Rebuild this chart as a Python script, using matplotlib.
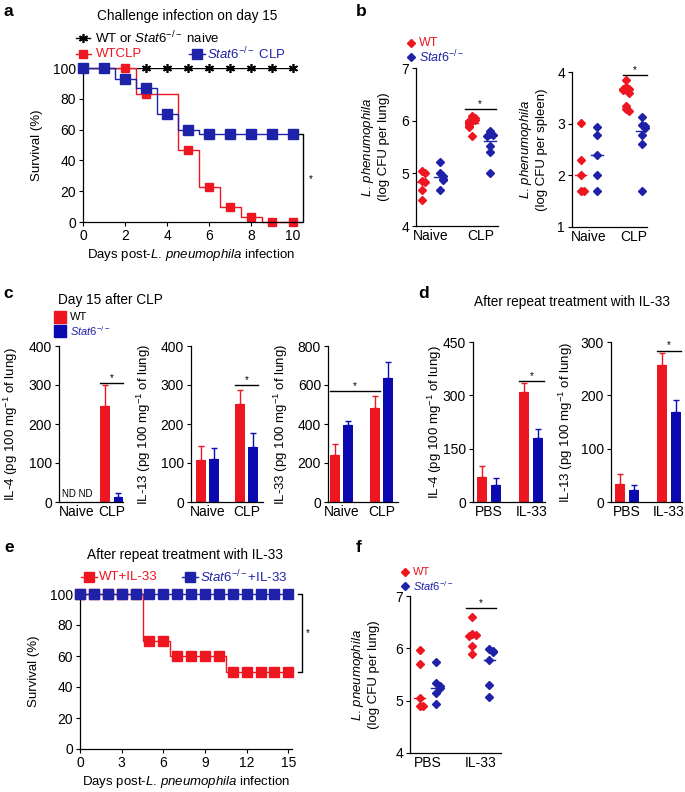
import numpy as np
import matplotlib
matplotlib.use('Agg')
import matplotlib.pyplot as plt

plt.rcParams['font.family'] = ['Liberation Sans', 'DejaVu Sans']
plt.rcParams['mathtext.fontset'] = 'custom'
plt.rcParams['mathtext.rm'] = 'Liberation Sans'
plt.rcParams['mathtext.it'] = 'Liberation Sans:italic'
plt.rcParams['mathtext.bf'] = 'Liberation Sans:bold'
plt.rcParams['axes.linewidth'] = 0.9

RED = '#ee1620'
BLUE = '#1e22a8'
BAR_BLUE = '#0a0ab0'
STAT6 = r'$\mathit{Stat6}^{-/-}$'
TICK_FS = 10
LAB_FS = 9.5

# ---- panel a : survival after challenge on day 15
a_days = np.arange(11)
a_naive = [100] * 11
a_wt_clp = [100, 100, 100, 83, 83, 47, 23, 10, 3, 0, 0]
a_wt_marked = [0, 1, 2, 3, 5, 6, 7, 8, 9, 10]
a_stat6_clp = [100, 100, 93, 87, 70, 60, 57, 57, 57, 57, 57]

# ---- panel b : bacterial load (log CFU)
b_groups = ['Naive', 'CLP']
b_lung_wt = [[5.05, 5.0, 4.85, 4.83, 4.68, 4.5],
             [6.09, 6.05, 6.02, 6.0, 5.97, 5.95, 5.93, 5.9, 5.88, 5.7]]
b_lung_st = [[5.22, 5.0, 4.95, 4.9, 4.88, 4.68],
             [5.8, 5.74, 5.72, 5.7, 5.52, 5.4, 5.0]]
b_lung_wt_mid = [4.84, 5.95]
b_lung_st_mid = [4.93, 5.62]
b_spl_wt = [[3.02, 2.3, 2.0, 1.7, 1.7],
            [3.84, 3.7, 3.68, 3.67, 3.65, 3.6, 3.35, 3.28, 3.24]]
b_spl_st = [[2.93, 2.78, 2.4, 2.0, 1.7],
            [3.12, 2.97, 2.95, 2.92, 2.78, 2.6, 1.7]]
b_spl_wt_mid = [2.0, 3.65]
b_spl_st_mid = [2.4, 2.86]

# ---- panel c : cytokines day 15 after CLP (nan = ND)
c_groups = ['Naive', 'CLP']
c_il4_wt = [np.nan, 245]
c_il4_wt_err = [np.nan, 55]
c_il4_st = [np.nan, 13]
c_il4_st_err = [np.nan, 10]
c_il13_wt = [107, 252]
c_il13_wt_err = [37, 34]
c_il13_st = [111, 141]
c_il13_st_err = [27, 36]
c_il33_wt = [242, 481]
c_il33_wt_err = [55, 65]
c_il33_st = [396, 634]
c_il33_st_err = [20, 86]

# ---- panel d : cytokines after IL-33
d_groups = ['PBS', 'IL-33']
d_il4_wt = [69, 308]
d_il4_wt_err = [31, 27]
d_il4_st = [49, 180]
d_il4_st_err = [18, 26]
d_il13_wt = [34, 256]
d_il13_wt_err = [18, 23]
d_il13_st = [23, 169]
d_il13_st_err = [8, 22]

# ---- panel e : survival after IL-33
e_days = np.arange(16)
e_wt = [100, 100, 100, 100, 100, 70, 70, 60, 60, 60, 60, 50, 50, 50, 50, 50]
e_stat6 = [100] * 16

# ---- panel f : lung load after IL-33
f_groups = ['PBS', 'IL-33']
f_wt = [[5.96, 5.7, 5.05, 4.9, 4.9],
        [6.6, 6.28, 6.26, 6.23, 6.04, 5.9]]
f_st = [[5.74, 5.33, 5.28, 5.25, 5.14, 4.93],
        [5.98, 5.95, 5.93, 5.78, 5.3, 5.07]]
f_wt_mid = [5.05, 6.24]
f_st_mid = [5.25, 5.78]

W, H = 685, 792
fig = plt.figure(figsize=(W / 100, H / 100), dpi=100)


def rect(x0, y0, x1, y1):
    return [x0 / W, 1 - y1 / H, (x1 - x0) / W, (y1 - y0) / H]


def style(ax, xticks_len=3):
    for s in ['top', 'right']:
        ax.spines[s].set_visible(False)
    ax.tick_params(direction='out', length=3, width=0.8, labelsize=TICK_FS, pad=2)
    ax.tick_params(axis='x', length=xticks_len)


def ylabel(ax, text, right_px, x0, x1):
    ax.set_ylabel(text, fontsize=LAB_FS)
    ax.yaxis.set_label_coords((right_px - x0) / (x1 - x0), 0.5)


def swarm(vals, center, step, tol):
    vals = np.asarray(vals, float)
    xs = np.zeros(len(vals))
    placed = []
    for i in np.argsort(vals)[::-1]:
        k = sum(1 for v in placed if abs(v - vals[i]) < tol)
        xs[i] = center + ((k + 1) // 2) * step * (1 if k % 2 else -1)
        placed.append(vals[i])
    return xs


def sig(ax, x0, x1, y):
    ax.plot([x0, x1], [y, y], color='k', lw=1, clip_on=False)
    ax.text((x0 + x1) / 2, y, '*', ha='center', va='bottom', fontsize=7)


def survival(ax, days, vals, color, ms, marked=None, z=2, marker='s'):
    ax.plot(days, vals, drawstyle='steps-mid', color=color, lw=1, zorder=z, clip_on=False)
    idx = marked if marked is not None else days
    ax.plot(idx, [vals[list(days).index(d)] for d in idx], ls='none', marker=marker,
            color=color, ms=ms, zorder=z + 0.5, clip_on=False)


def dot_panel(ax, wt, st, wt_mid, st_mid, off, step, tol, hw):
    for i in range(len(wt)):
        ax.plot(swarm(wt[i], i - off, step, tol), wt[i], ls='none', marker='D',
                color=RED, ms=3.6, clip_on=False, zorder=3)
        ax.plot([i - off - hw, i - off + hw], [wt_mid[i]] * 2, color=RED, lw=1, zorder=2)
        ax.plot(swarm(st[i], i + off, step, tol), st[i], ls='none', marker='D',
                color=BLUE, ms=4.4, clip_on=False, zorder=3)
        ax.plot([i + off - hw, i + off + hw], [st_mid[i]] * 2, color=BLUE, lw=1, zorder=2)


def bar_panel(ax, wt, wt_err, st, st_err, off=0.165, w=0.24):
    x = np.arange(len(wt))
    for vals, errs, dx, col in [(wt, wt_err, -off, RED), (st, st_err, off, BAR_BLUE)]:
        vals = np.asarray(vals, float)
        errs = np.asarray(errs, float)
        ok = ~np.isnan(vals)
        ax.bar(x[ok] + dx, vals[ok], w, color=col, zorder=2)
        ax.errorbar(x[ok] + dx, vals[ok], yerr=[np.zeros(ok.sum()), errs[ok]], fmt='none',
                    ecolor=col, elinewidth=1, capsize=2.5, capthick=1, zorder=1)


# the period stays outside mathtext, which pads punctuation
xlab = r'Days post-$\mathit{L}$. $\mathit{pneumophila}$ infection'
lp = r'$\mathit{L}$. $\mathit{pneumophila}$'
lph = r'$\mathit{L}$. $\mathit{phenumophila}$'

# ---------------- a
ax = fig.add_axes(rect(83, 68, 300, 222))
ax.plot(a_days, a_naive, color='k', lw=1, zorder=1)
ax.plot(a_days[3:], a_naive[3:], ls='none', marker=(6, 2, 0), ms=6.5, mew=1.2,
        color='k', clip_on=False, zorder=1)
survival(ax, list(a_days), a_wt_clp, RED, 5.4, marked=a_wt_marked, z=2)
survival(ax, list(a_days), a_stat6_clp, BLUE, 7.2, z=3)
ax.set_xlim(0, 217 / 21)
ax.set_ylim(0, 100)
ax.set_xticks(range(0, 11, 2))
ax.set_yticks(range(0, 101, 20))
style(ax)
ax.set_xlabel(xlab, fontsize=LAB_FS, labelpad=3)
ylabel(ax, 'Survival (%)', 43, 83, 300)
bx = 220 / 21
ax.plot([bx - 0.2, bx, bx, bx - 0.2], [a_stat6_clp[-1], a_stat6_clp[-1], 0, 0],
        color='k', lw=1, clip_on=False)
ax.text(bx + 0.35, 28, '*', fontsize=7, ha='center', va='center')

# ---------------- b
ax = fig.add_axes(rect(416, 68, 498, 226))
dot_panel(ax, b_lung_wt, b_lung_st, b_lung_wt_mid, b_lung_st_mid, 0.18, 0.06, 0.05, 0.12)
ax.set_xlim(-0.3, 1.34)
ax.set_ylim(4, 7)
ax.set_yticks([4, 5, 6, 7])
ax.set_xticks([0, 1])
ax.set_xticklabels(b_groups)
style(ax, xticks_len=0)
sig(ax, 1 - 0.18 - 0.15, 1 + 0.18 + 0.12, 6.22)
ylabel(ax, lph + '\n(log CFU per lung)', 390, 416, 498)

ax = fig.add_axes(rect(572, 72, 647, 227))
dot_panel(ax, b_spl_wt, b_spl_st, b_spl_wt_mid, b_spl_st_mid, 0.18, 0.07, 0.05, 0.13)
ax.set_xlim(-0.37, 1.29)
ax.set_ylim(1, 4)
ax.set_yticks([1, 2, 3, 4])
ax.set_xticks([0, 1])
ax.set_xticklabels(b_groups)
style(ax, xticks_len=0)
sig(ax, 1 - 0.25, 1 + 0.28, 3.94)
ylabel(ax, lph + '\n(log CFU per spleen)', 548, 572, 647)

# ---------------- c
mg = r' (pg 100 mg$^{-1}$ of lung)'
ax = fig.add_axes(rect(59, 346, 123, 502))
bar_panel(ax, c_il4_wt, c_il4_wt_err, c_il4_st, c_il4_st_err, off=0.194, w=0.275)
ax.set_xlim(-0.52, 1.33)
ax.set_ylim(0, 400)
ax.set_yticks(range(0, 401, 100))
ax.set_xticks([0, 1])
ax.set_xticklabels(c_groups)
style(ax, xticks_len=0)
ax.text(0, 8, 'ND ND', ha='center', va='bottom', fontsize=7)
sig(ax, 1 - 0.194 - 0.14, 1 + 0.194 + 0.14, 305)
ylabel(ax, 'IL-4' + mg, 20, 59, 123)

ax = fig.add_axes(rect(191, 346, 263, 502))
bar_panel(ax, c_il13_wt, c_il13_wt_err, c_il13_st, c_il13_st_err, off=0.165, w=0.25)
ax.set_xlim(-0.42, 1.41)
ax.set_ylim(0, 400)
ax.set_yticks(range(0, 401, 100))
ax.set_xticks([0, 1])
ax.set_xticklabels(c_groups)
style(ax, xticks_len=0)
sig(ax, 1 - 0.165 - 0.125, 1 + 0.165 + 0.125, 300)
ylabel(ax, 'IL-13' + mg, 153, 191, 263)

ax = fig.add_axes(rect(328, 346, 398, 502))
bar_panel(ax, c_il33_wt, c_il33_wt_err, c_il33_st, c_il33_st_err, off=0.16, w=0.25)
ax.set_xlim(-0.34, 1.41)
ax.set_ylim(0, 800)
ax.set_yticks(range(0, 801, 200))
ax.set_xticks([0, 1])
ax.set_xticklabels(c_groups)
style(ax, xticks_len=0)
sig(ax, -0.16 - 0.125, 1 - 0.16 + 0.125, 570)
ylabel(ax, 'IL-33' + mg, 290, 328, 398)

# ---------------- d
ax = fig.add_axes(rect(473, 342, 545, 502))
bar_panel(ax, d_il4_wt, d_il4_wt_err, d_il4_st, d_il4_st_err, off=0.165, w=0.235)
ax.set_xlim(-0.376, 1.32)
ax.set_ylim(0, 450)
ax.set_yticks(range(0, 451, 150))
ax.set_xticks([0, 1])
ax.set_xticklabels(d_groups)
style(ax, xticks_len=0)
sig(ax, 1 - 0.165 - 0.12, 1 + 0.165 + 0.12, 339)
ylabel(ax, 'IL-4' + mg, 444, 473, 545)

ax = fig.add_axes(rect(611, 342, 682, 502))
bar_panel(ax, d_il13_wt, d_il13_wt_err, d_il13_st, d_il13_st_err, off=0.17, w=0.24)
ax.set_xlim(-0.38, 1.31)
ax.set_ylim(0, 300)
ax.set_yticks(range(0, 301, 100))
ax.set_xticks([0, 1])
ax.set_xticklabels(d_groups)
style(ax, xticks_len=0)
sig(ax, 1 - 0.17 - 0.12, 1 + 0.17 + 0.12, 284)
ylabel(ax, 'IL-13' + mg, 575, 611, 682)

# ---------------- e
ax = fig.add_axes(rect(80, 594, 292, 749))
survival(ax, list(e_days), e_wt, RED, 7, z=2)
survival(ax, list(e_days), e_stat6, BLUE, 7, z=3)
ax.set_xlim(0, 212 / 13.89)
ax.set_ylim(0, 100)
ax.set_xticks(range(0, 16, 3))
ax.set_yticks(range(0, 101, 20))
style(ax)
ax.set_xlabel(xlab, fontsize=LAB_FS, labelpad=3)
ylabel(ax, 'Survival (%)', 40, 80, 292)
bx = 221.7 / 13.89
ax.plot([bx - 0.3, bx, bx, bx - 0.3], [e_stat6[-1], e_stat6[-1], e_wt[-1], e_wt[-1]],
        color='k', lw=1, clip_on=False)
ax.text(bx + 0.45, 75, '*', fontsize=7, ha='center', va='center')

# ---------------- f
ax = fig.add_axes(rect(410, 596, 501, 753))
dot_panel(ax, f_wt, f_st, f_wt_mid, f_st_mid, 0.16, 0.06, 0.05, 0.11)
ax.set_xlim(-0.34, 1.38)
ax.set_ylim(4, 7)
ax.set_yticks([4, 5, 6, 7])
ax.set_xticks([0, 1])
ax.set_xticklabels(f_groups)
style(ax, xticks_len=0)
sig(ax, 1 - 0.16 - 0.12, 1 + 0.16 + 0.12, 6.77)
ylabel(ax, lp + '\n(log CFU per lung)', 380, 410, 501)

# ---------------- overlay: letters, titles, legends
ov = fig.add_axes([0, 0, 1, 1])
ov.set_xlim(0, W)
ov.set_ylim(H, 0)
ov.axis('off')
ov.patch.set_alpha(0)

for letter, x, y in [('a', 4, 12), ('b', 356, 12), ('c', 3, 294), ('d', 418, 294),
                     ('e', 4, 548), ('f', 356, 548)]:
    ov.text(x, y, letter, fontsize=12.5, fontweight='bold', ha='left', va='center')

TITLE_FS = 9.8
ov.text(187, 16, 'Challenge infection on day 15', fontsize=TITLE_FS, ha='center', va='center')
ov.text(58, 300, 'Day 15 after CLP', fontsize=TITLE_FS, ha='left', va='center')
ov.text(572, 302, 'After repeat treatment with IL-33', fontsize=TITLE_FS, ha='center', va='center')
ov.text(185, 555, 'After repeat treatment with IL-33', fontsize=TITLE_FS, ha='center', va='center')

# legend a
LEG_FS = 9.5
ov.plot([76, 90], [38, 38], color='k', lw=1)
ov.plot([83], [38], marker=(6, 2, 0), ms=6.5, mew=1.2, color='k')
ov.text(95, 38, 'WT or ' + STAT6 + ' naive', fontsize=LEG_FS, va='center')
ov.plot([76, 91], [54, 54], color=RED, lw=1)
ov.plot([83], [54], marker='s', ms=5.4, color=RED)
ov.text(96, 54, 'WTCLP', fontsize=LEG_FS, va='center', color=RED)
ov.plot([189, 205], [54, 54], color=BLUE, lw=1)
ov.plot([197], [54], marker='s', ms=7.2, color=BLUE)
ov.text(207, 54, STAT6 + ' CLP', fontsize=LEG_FS, va='center', color=BLUE)

# legend b / f
for x, y1, y2, tx, fs in [(411, 43, 57, 419, 9), (405, 572, 586, 413, 8)]:
    ov.plot([x], [y1], marker='D', ms=3.6, color=RED)
    ov.text(tx, y1, 'WT', fontsize=fs, va='center', color=RED)
    ov.plot([x], [y2], marker='D', ms=4.4, color=BLUE)
    ov.text(tx, y2, STAT6, fontsize=fs, va='center', color=BLUE)

# legend c
ov.plot([60], [317], marker='s', ms=8, color=RED)
ov.text(70, 317, 'WT', fontsize=8, va='center')
ov.plot([60], [331], marker='s', ms=8, color=BAR_BLUE)
ov.text(70, 331, STAT6, fontsize=8, va='center', color=BLUE)

# legend e
ov.plot([81, 97], [577, 577], color=RED, lw=1)
ov.plot([89], [577], marker='s', ms=7, color=RED)
ov.text(99, 577, 'WT+IL-33', fontsize=LEG_FS, va='center', color=RED)
ov.plot([182, 198], [577, 577], color=BLUE, lw=1)
ov.plot([190], [577], marker='s', ms=7, color=BLUE)
ov.text(200, 577, STAT6 + '+IL-33', fontsize=LEG_FS, va='center', color=BLUE)

fig.savefig('out.png', dpi=100)
